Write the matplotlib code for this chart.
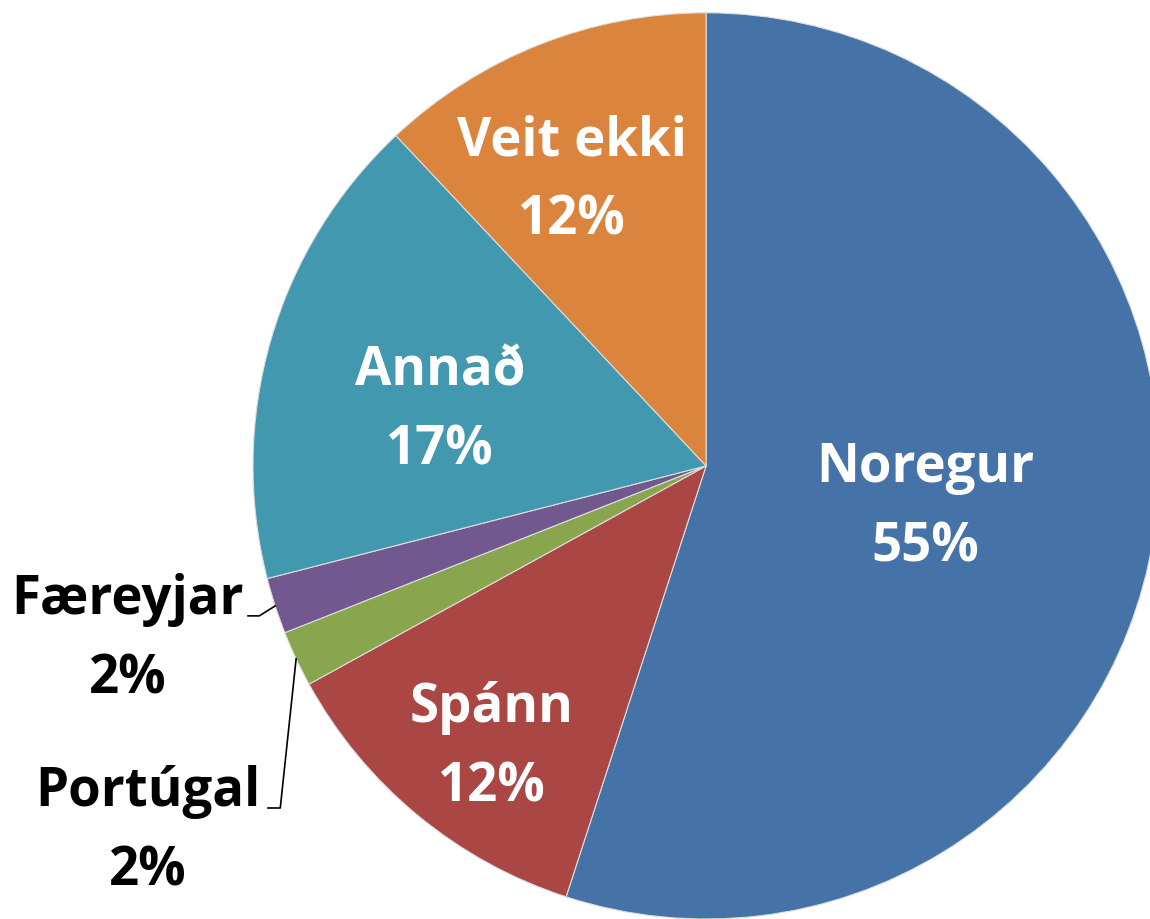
import numpy as np
import matplotlib
matplotlib.use('Agg')
import matplotlib.pyplot as plt

plt.rcParams['font.family'] = ['Open Sans', 'DejaVu Sans']

# Gögn
flokkar = ['Noregur', 'Spánn', 'Portúgal', 'Færeyjar', 'Annað', 'Veit ekki']
hlutfall = [55, 12, 2, 2, 17, 12]
litir = ['#4572A7', '#AA4643', '#89A54E', '#71588F', '#4198AF', '#DB843D']

# staðsetning innri merkja: (fjarlægð, horn í gráðum)
innri = {'Noregur': (0.492, -10.6), 'Spánn': (0.780, -127.3),
         'Annað': (0.600, 168.1), 'Veit ekki': (0.697, 115.1)}
# ytri merki (x, y í hnitum ássins)
ytri = {'Færeyjar': (-1.276, -0.382), 'Portúgal': (-1.232, -0.806)}

fig = plt.figure(figsize=(11.5, 9.2), dpi=100)
ax = fig.add_axes([0.220, 0.0, 0.788, 0.985])
wedges, _ = ax.pie(hlutfall, colors=litir, startangle=90, counterclock=False,
                   radius=1.0, wedgeprops=dict(edgecolor='#dddddd', linewidth=0.8))
ax.set_xlim(-1, 1)
ax.set_ylim(-1, 1)
ax.set_aspect('equal')
ax.axis('off')

FS = 38
LS = 1.62
for w, name, v in zip(wedges, flokkar, hlutfall):
    txt = f'{name}\n{v}%'
    if name in innri:
        d, a = innri[name]
        a = np.deg2rad(a)
        ax.text(d * np.cos(a), d * np.sin(a), txt, ha='center', va='center',
                color='white', fontsize=FS, fontweight='bold', linespacing=LS)
    else:
        mid = np.deg2rad((w.theta1 + w.theta2) / 2)
        tx, ty = ytri[name]
        ax.text(tx, ty, txt, ha='center', va='center', color='black',
                fontsize=FS, fontweight='bold', linespacing=LS, clip_on=False)
        ex, ey = np.cos(mid), np.sin(mid)
        line_y = ty + 0.051
        ax.plot([ex, ex - 0.035, tx + 0.265], [ey, line_y, line_y],
                color='black', lw=1.2, clip_on=False)

fig.savefig('out.png', dpi=100, facecolor='white')
